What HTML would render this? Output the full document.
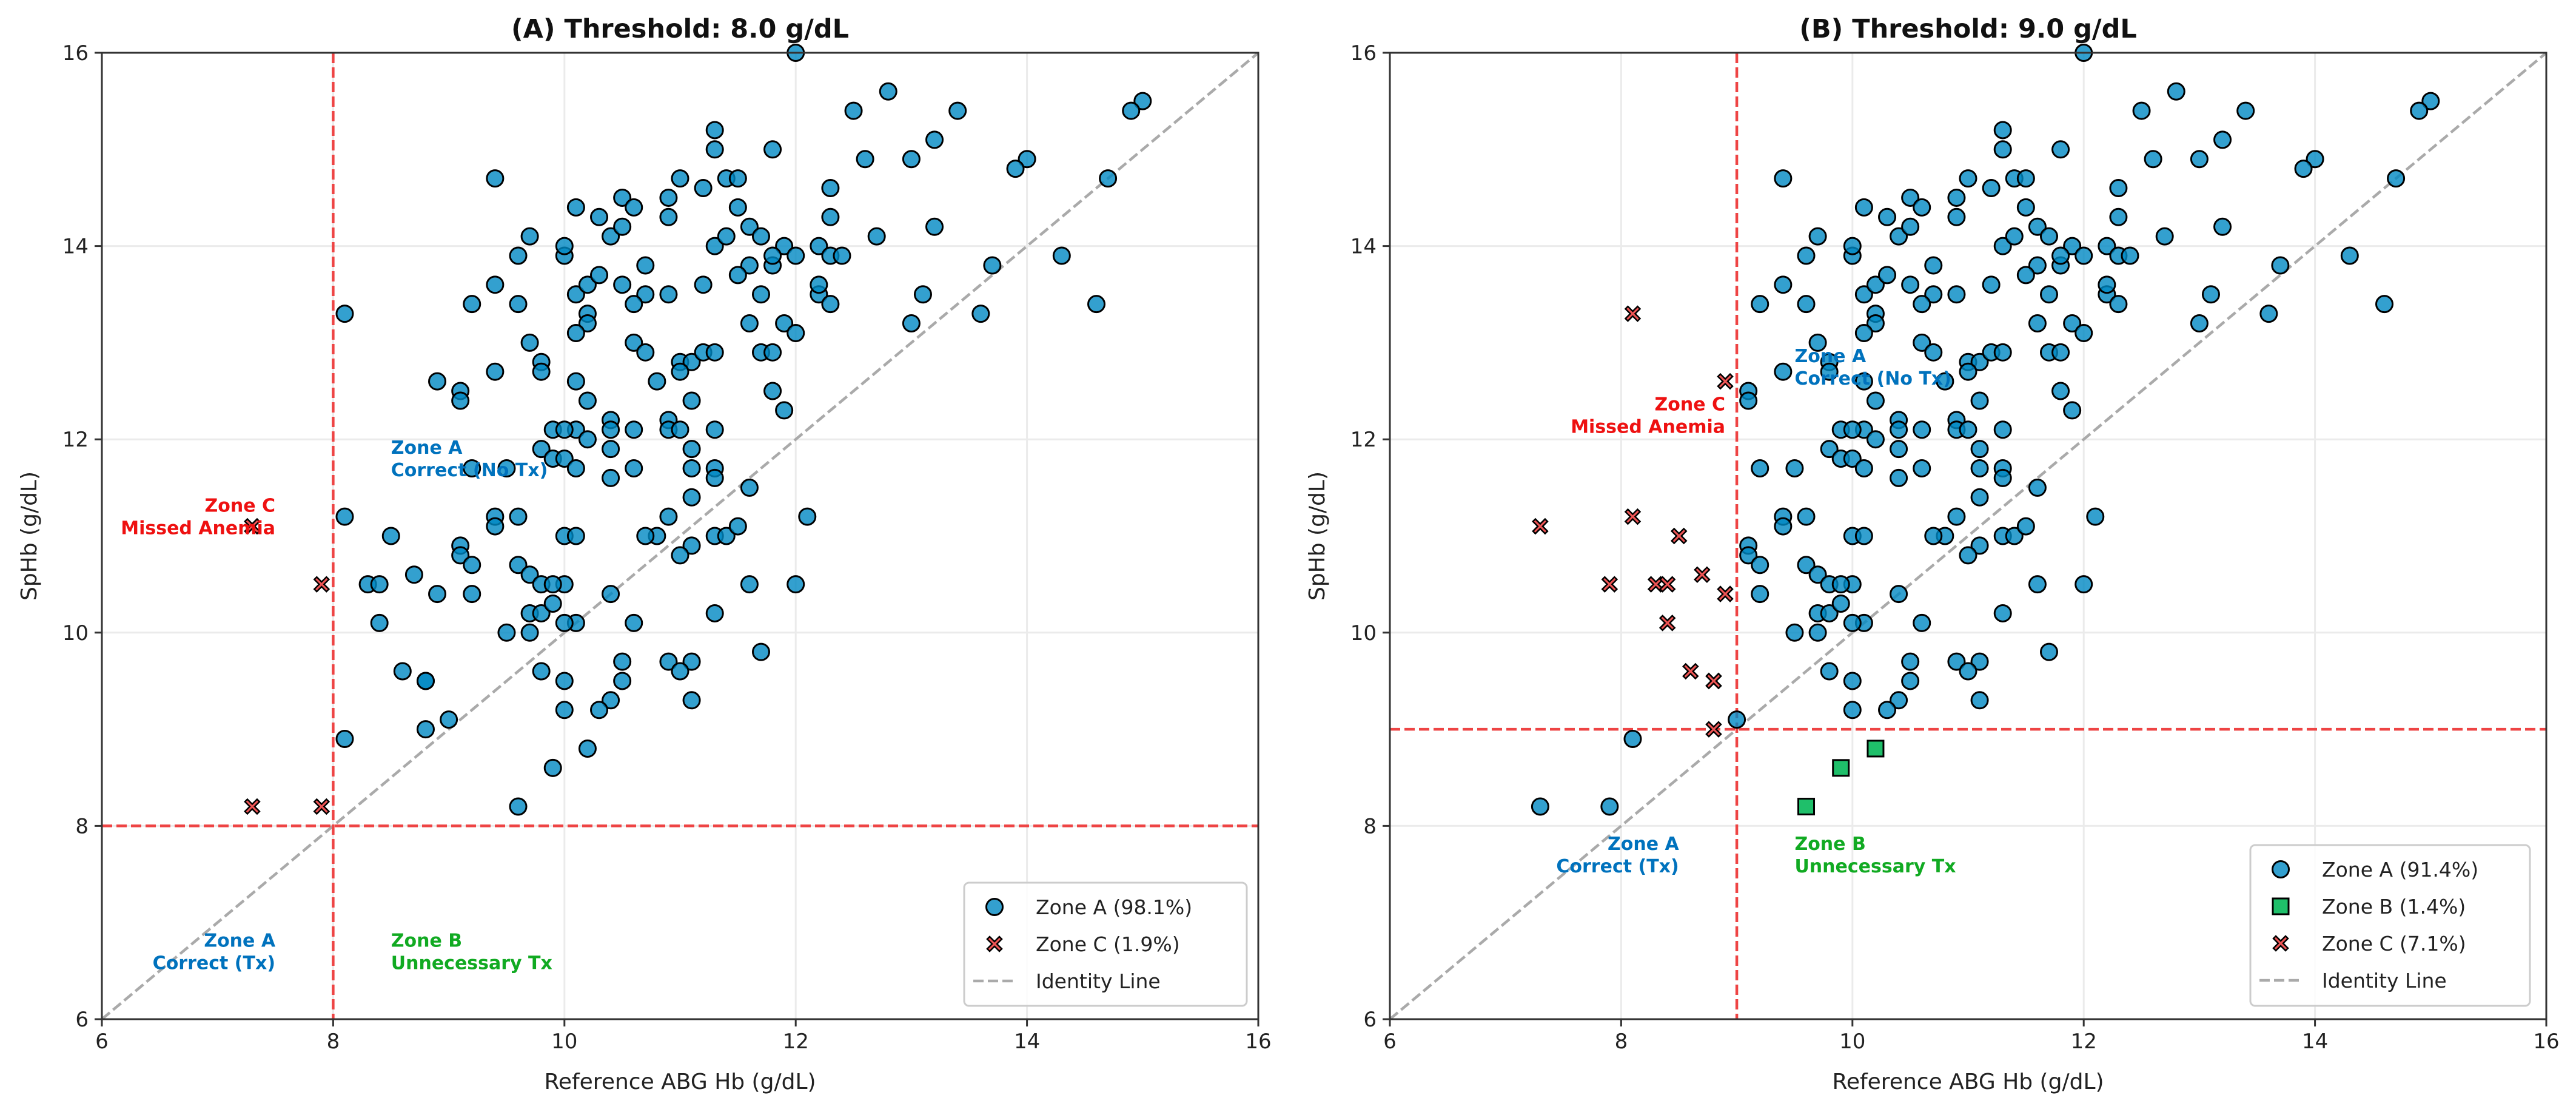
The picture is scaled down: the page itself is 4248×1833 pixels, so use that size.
<!DOCTYPE html>
<html><head><meta charset="utf-8"><style>
html,body{margin:0;padding:0;background:#fff;}
svg{display:block;font-family:"DejaVu Sans","Liberation Sans",sans-serif;}
</style></head><body>
<svg id="chart" width="4248" height="1833" viewBox="0 0 4248 1833" xmlns="http://www.w3.org/2000/svg"></svg>
<script>
const abgValues = [15.0,14.9,12.8,12.5,13.4,11.3,11.3,12.0,13.0,13.2,11.8,12.6,14.0,13.9,14.7,9.4,10.5,11.0,11.2,11.4,11.5,12.3,10.6,10.1,10.9,11.5,9.7,10.4,10.3,10.9,11.6,11.7,12.3,13.2,14.3,12.7,9.6,10.0,10.0,10.5,10.7,11.3,11.4,11.6,11.8,11.9,12.0,12.2,12.3,12.4,13.7,9.4,10.1,10.2,10.3,10.5,10.7,10.9,11.2,11.5,11.7,11.8,12.2,12.2,12.3,13.1,9.2,9.6,10.6,8.1,10.2,10.2,10.1,11.6,11.9,12.0,13.0,13.6,14.6,9.7,10.6,10.7,11.0,11.1,11.2,11.3,11.7,11.8,9.8,9.8,9.4,8.9,10.1,10.8,11.0,11.8,9.1,9.1,10.2,11.1,11.9,10.4,10.9,10.4,10.6,11.3,9.9,10.1,10.0,10.9,11.0,10.2,11.1,9.8,10.4,9.9,10.0,11.3,11.1,10.1,10.6,9.5,9.2,10.4,11.6,11.3,11.1,10.9,9.4,9.6,9.4,8.1,12.1,10.0,10.1,8.5,10.8,11.3,11.4,11.5,9.1,9.1,10.7,11.1,9.2,9.6,9.7,11.0,9.8,10.0,9.9,8.3,8.4,8.7,9.2,8.9,10.4,11.6,12.0,9.7,9.8,9.9,10.1,10.0,8.4,11.3,10.6,9.5,9.7,10.9,11.1,11.7,11.0,10.5,9.8,10.5,10.0,8.6,8.8,8.8,10.4,10.3,10.0,11.1,9.0,8.1,8.8,10.2,9.9,9.6,7.3,7.9,7.3,7.9];
const sphbValues = [15.5,15.4,15.6,15.4,15.4,15.2,15.0,16.0,14.9,15.1,15.0,14.9,14.9,14.8,14.7,14.7,14.5,14.7,14.6,14.7,14.7,14.6,14.4,14.4,14.5,14.4,14.1,14.1,14.3,14.3,14.2,14.1,14.3,14.2,13.9,14.1,13.9,13.9,14.0,14.2,13.8,14.0,14.1,13.8,13.8,14.0,13.9,14.0,13.9,13.9,13.8,13.6,13.5,13.6,13.7,13.6,13.5,13.5,13.6,13.7,13.5,13.9,13.5,13.6,13.4,13.5,13.4,13.4,13.4,13.3,13.3,13.2,13.1,13.2,13.2,13.1,13.2,13.3,13.4,13.0,13.0,12.9,12.8,12.8,12.9,12.9,12.9,12.9,12.8,12.7,12.7,12.6,12.6,12.6,12.7,12.5,12.5,12.4,12.4,12.4,12.3,12.2,12.2,12.1,12.1,12.1,12.1,12.1,12.1,12.1,12.1,12.0,11.9,11.9,11.9,11.8,11.8,11.7,11.7,11.7,11.7,11.7,11.7,11.6,11.5,11.6,11.4,11.2,11.2,11.2,11.1,11.2,11.2,11.0,11.0,11.0,11.0,11.0,11.0,11.1,10.9,10.8,11.0,10.9,10.7,10.7,10.6,10.8,10.5,10.5,10.5,10.5,10.5,10.6,10.4,10.4,10.4,10.5,10.5,10.2,10.2,10.3,10.1,10.1,10.1,10.2,10.1,10.0,10.0,9.7,9.7,9.8,9.6,9.7,9.6,9.5,9.5,9.6,9.5,9.5,9.3,9.2,9.2,9.3,9.1,8.9,9.0,8.8,8.6,8.2,11.1,10.5,8.2,8.2];
const thresholds = [8.0, 9.0];
const panelTitles = ["(A) Threshold: 8.0 g/dL","(B) Threshold: 9.0 g/dL"];
const legendA = ["Zone A (98.1%)","Zone C (1.9%)","Identity Line"];
const legendB = ["Zone A (91.4%)","Zone B (1.4%)","Zone C (7.1%)","Identity Line"];
const tickValues = [6,8,10,12,14,16];

const NS="http://www.w3.org/2000/svg";
const svg=document.getElementById('chart');
function mk(tag,attrs,parent){const e=document.createElementNS(NS,tag);for(const k in attrs)e.setAttribute(k,attrs[k]);(parent||svg).appendChild(e);return e;}
const panels=[{left:168,right:2075},{left:2292,right:4199}];
const TOP=87,BOT=1680;
function xpath(cx,cy,s,w){return `M${cx-s} ${cy-s+w}L${cx-s+w} ${cy-s}L${cx} ${cy-w}L${cx+s-w} ${cy-s}L${cx+s} ${cy-s+w}L${cx+w} ${cy}L${cx+s} ${cy+s-w}L${cx+s-w} ${cy+s}L${cx} ${cy+w}L${cx-s+w} ${cy+s}L${cx-s} ${cy+s-w}L${cx-w} ${cy}Z`;}

panels.forEach((p,pi)=>{
  const T=thresholds[pi];
  const g=mk('g',{});
  
  
  const sx=v=>p.left+(v-6)/10*(p.right-p.left);
  const sy=v=>BOT-(v-6)/10*(BOT-TOP);
  tickValues.forEach(t=>{
    mk('line',{x1:sx(t),x2:sx(t),y1:TOP,y2:BOT,stroke:'#ebebeb','stroke-width':3},g);
    mk('line',{x1:p.left,x2:p.right,y1:sy(t),y2:sy(t),stroke:'#ebebeb','stroke-width':3},g);
  });
  const idl=mk('line',{x1:sx(6),y1:sy(6),x2:sx(16),y2:sy(16),stroke:'#aaaaaa','stroke-width':4.5,'stroke-dasharray':'17,7'},g);
  
  
  const tv=mk('line',{x1:sx(T),x2:sx(T),y1:TOP,y2:BOT,stroke:'#ee4444','stroke-width':4.5,'stroke-dasharray':'17,7'},g);
  
  
  const th=mk('line',{x1:p.left,x2:p.right,y1:sy(T),y2:sy(T),stroke:'#ee4444','stroke-width':4.5,'stroke-dasharray':'17,7'},g);
  
  
  abgValues.forEach((x,i)=>{
    const y=sphbValues[i];
    let zone='A';
    if(x<T&&y>=T)zone='C'; else if(x>=T&&y<T)zone='B';
    const cx=sx(x),cy=sy(y);
    let el;
    if(zone==='A'){
      el=mk('circle',{cx:cx,cy:cy,r:13.5,fill:'rgb(0,136,195)','fill-opacity':0.8,stroke:'#000','stroke-width':3},g);
    }else if(zone==='B'){
      el=mk('rect',{x:cx-13,y:cy-13,width:26,height:26,fill:'#1fbf6a',stroke:'#000','stroke-width':3},g);
    }else{
      el=mk('path',{d:xpath(cx,cy,12,4),fill:'#ee5555',stroke:'#000','stroke-width':2.5},g);
    }
    
    
  });
  mk('rect',{x:p.left,y:TOP,width:p.right-p.left,height:BOT-TOP,fill:'none',stroke:'#333','stroke-width':3},g);
  tickValues.forEach(t=>{
    mk('line',{x1:sx(t),x2:sx(t),y1:BOT,y2:BOT+12,stroke:'#333','stroke-width':3},g);
    const xl=mk('text',{x:sx(t),y:BOT+48,'font-size':34,'text-anchor':'middle',fill:'#222'},g);
    xl.textContent=t;
    
    
    mk('line',{x1:p.left-12,x2:p.left,y1:sy(t),y2:sy(t),stroke:'#333','stroke-width':3},g);
    const yl=mk('text',{x:p.left-22,y:sy(t)+12,'font-size':34,'text-anchor':'end',fill:'#222'},g);
    yl.textContent=t;
    
    
  });
  const ttl=mk('text',{x:(p.left+p.right)/2,y:62,'font-size':43,'font-weight':'bold','text-anchor':'middle',fill:'#111'},g);
  ttl.textContent=panelTitles[pi];
  
  
  const xt=mk('text',{x:(p.left+p.right)/2,y:1795,'font-size':36,'text-anchor':'middle',fill:'#222'},g);
  xt.textContent='Reference ABG Hb (g/dL)';
  
  
  const yx=p.left-108;
  const yt=mk('text',{x:yx,y:(TOP+BOT)/2,'font-size':36,'text-anchor':'middle',fill:'#222',transform:`rotate(-90 ${yx} ${(TOP+BOT)/2})`},g);
  yt.textContent='SpHb (g/dL)';
  
  
  const labs = pi===0 ? [
    [8.5,11.85,'start','#0072bd',['Zone A','Correct (No Tx)'],'zone-a-no-tx-label'],
    [7.5,11.25,'end','#ee1111',['Zone C','Missed Anemia'],'zone-c-label'],
    [7.5,6.75,'end','#0072bd',['Zone A','Correct (Tx)'],'zone-a-tx-label'],
    [8.5,6.75,'start','#11aa22',['Zone B','Unnecessary Tx'],'zone-b-label']
  ] : [
    [9.5,12.8,'start','#0072bd',['Zone A','Correct (No Tx)'],'zone-a-no-tx-label'],
    [8.9,12.3,'end','#ee1111',['Zone C','Missed Anemia'],'zone-c-label'],
    [8.5,7.75,'end','#0072bd',['Zone A','Correct (Tx)'],'zone-a-tx-label'],
    [9.5,7.75,'start','#11aa22',['Zone B','Unnecessary Tx'],'zone-b-label']
  ];
  labs.forEach(l=>{
    const t=mk('text',{x:sx(l[0]),y:sy(l[1]),'font-size':30,'font-weight':'bold','text-anchor':l[2],fill:l[3]},g);
    
    
    l[4].forEach((s,k)=>{const ts=mk('tspan',{x:sx(l[0]),dy:k?37:0},t);ts.textContent=s;});
  });
  const entries = pi===0?legendA:legendB;
  const kinds = pi===0?['A','C','L']:['A','B','C','L'];
  const lw=pi===0?466:461, lh=pi===0?203:265;
  const lx=pi===0?1590:3711, ly=BOT-22-lh;
  const lg=mk('g',{},g);
  
  
  mk('rect',{x:lx,y:ly,width:lw,height:lh,rx:8,fill:'#fff','fill-opacity':0.85,stroke:'#cccccc','stroke-width':3},lg);
  entries.forEach((s,k)=>{
    const cy=ly+40+k*61, mx=lx+50;
    const kd=kinds[k];
    if(kd==='A')mk('circle',{cx:mx,cy:cy,r:13.5,fill:'rgb(0,136,195)','fill-opacity':0.8,stroke:'#000','stroke-width':3},lg);
    else if(kd==='B')mk('rect',{x:mx-13,y:cy-13,width:26,height:26,fill:'#1fbf6a',stroke:'#000','stroke-width':3},lg);
    else if(kd==='C')mk('path',{d:xpath(mx,cy,12,4),fill:'#ee5555',stroke:'#000','stroke-width':2.5},lg);
    else mk('line',{x1:mx-35,x2:mx+35,y1:cy,y2:cy,stroke:'#aaaaaa','stroke-width':4.5,'stroke-dasharray':'17,7'},lg);
    const t=mk('text',{x:lx+118,y:cy+12,'font-size':33,fill:'#222'},lg);
    t.textContent=s;
    
    
  });
});
</script>
</body></html>
